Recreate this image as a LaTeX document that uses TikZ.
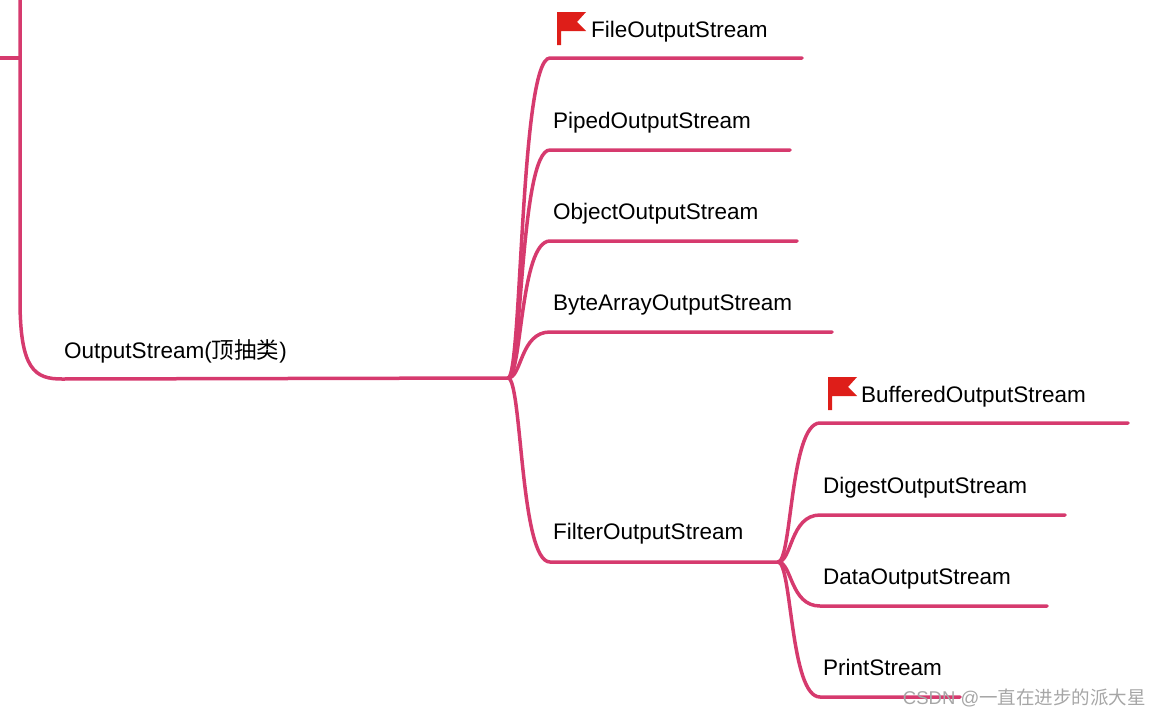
\documentclass[tikz,border=0pt]{standalone}
\usepackage{fontspec}
\setmainfont{Liberation Sans}
\newfontfamily\cjk{Noto Sans CJK SC}
\definecolor{br}{RGB}{214,58,110}
\definecolor{fl}{RGB}{222,30,25}
\begin{document}
\begin{tikzpicture}[x=1pt,y=-1pt,
  br/.style={draw=br,line width=3.5pt,line cap=round},
  lab/.style={anchor=base west,inner sep=0pt,font=\fontsize{22.5}{26}\selectfont},
  flag/.pic={\fill[fl] (0,0)--(29,0)--(20,10)--(29,19)--(4,19)--(4,33)--(0,33)--cycle;}]
\useasboundingbox (0,0) rectangle (1162,718);
\coordinate (p0) at (0,58);
\coordinate (pv) at (20,58);
\coordinate (top) at (20,0);
\coordinate (r) at (508,378);
\coordinate (s) at (62,379);
\draw[br] (p0)--(pv);
\draw[br] (top)--(20,300) .. controls (20,370) and (35,379) .. (s) -- (r);
\node[lab] (os) at (64,358) {OutputStream({\cjk 顶抽类})};
% first level
\foreach \y/\e/\n in {58/802/a,150/790/b,241/797/c,332/832/d,562/778/f}{
  \coordinate (\n0) at (550,\y);
  \coordinate (\n1) at (\e,\y);
  \draw[br] (r) .. controls (522,378) and (520,\y) .. (\n0) -- (\n1);
}
\node[lab] at (591,37) {FileOutputStream};
\node[lab] at (553,128) {PipedOutputStream};
\node[lab] at (553,219) {ObjectOutputStream};
\node[lab] at (553,310) {ByteArrayOutputStream};
\node[lab] at (553,539) {FilterOutputStream};
\pic at (557,12) {flag};
% second level
\foreach \y/\e/\n in {423/1128/g,515/1065/h,606/1047/i,697/960/j}{
  \coordinate (\n0) at (820,\y);
  \coordinate (\n1) at (\e,\y);
  \draw[br] (f1) .. controls (792,562) and (790,\y) .. (\n0) -- (\n1);
}
\node[lab] at (861,402) {BufferedOutputStream};
\node[lab] at (823,493) {DigestOutputStream};
\node[lab] at (823,584) {DataOutputStream};
\node[lab] at (823,675) {PrintStream};
\pic at (828,377) {flag};
\node[anchor=base east,inner sep=0pt,text=gray!70,font=\fontsize{18.5}{20}\selectfont] (wm) at (1146,704) {CSDN @{\cjk 一直在进步的派大星}};
\end{tikzpicture}
\end{document}
